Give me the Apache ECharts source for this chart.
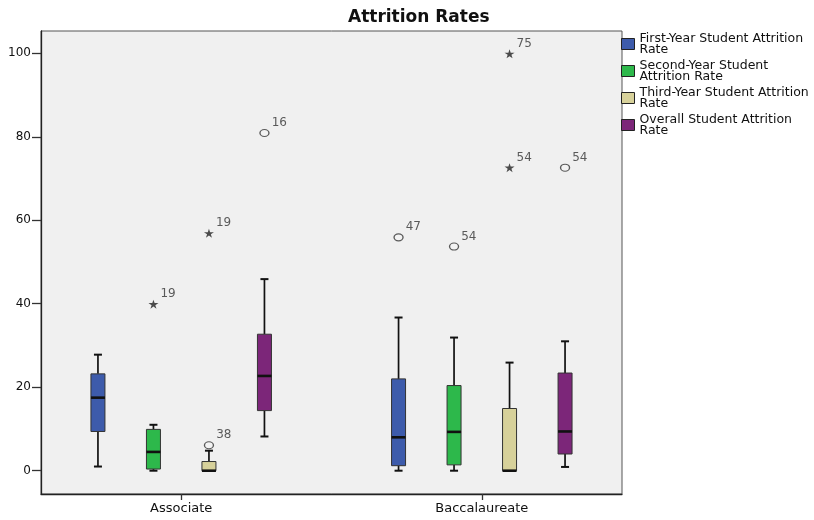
<!DOCTYPE html>
<html>
<head>
<meta charset="utf-8">
<title>Attrition Rates</title>
<script src="https://cdn.jsdelivr.net/npm/echarts@6/dist/echarts.min.js"></script>
<style>
  html, body { margin: 0; padding: 0; background: #fff; }
  #chart { width: 814px; height: 520px; }
</style>
</head>
<body>
<div id="chart"></div>
<script>
// 分类
const categories = ['Associate', 'Baccalaureate']
// 图例名称 (和原图一样换行)
const seriesNames = [
  'First-Year Student Attrition\nRate',
  'Second-Year Student\nAttrition Rate',
  'Third-Year Student Attrition\nRate',
  'Overall Student Attrition\nRate'
]
const seriesColors = ['#3d5bab', '#2db84b', '#d7d19a', '#7c2679']
// 箱线数据: [分类, min, Q1, median, Q3, max]
const firstYear = [[0, 1.0, 9.4, 17.5, 23.2, 27.8], [1, 0, 1.2, 8.0, 22.0, 36.7]]
const secondYear = [[0, 0, 0.4, 4.5, 9.9, 11.0], [1, 0, 1.4, 9.3, 20.4, 31.9]]
const thirdYear = [[0, 0, 0, 0, 2.2, 4.8], [1, 0, 0, 0, 14.9, 25.9]]
const overall = [[0, 8.2, 14.4, 22.7, 32.7, 45.9], [1, 0.9, 4.0, 9.4, 23.4, 31.0]]
// 离群点: [分类, 值, 编号, 类型] 'o' 离群 / '*' 极端
const outFirst = [[1, 55.9, '47', 'o']]
const outSecond = [[0, 39.9, '19', '*'], [1, 53.7, '54', 'o']]
const outThird = [[0, 6.1, '38', 'o'], [0, 56.9, '19', '*'], [1, 99.9, '75', '*'], [1, 72.6, '54', '*']]
const outOverall = [[0, 80.9, '16', 'o'], [1, 72.6, '54', 'o']]
const yTicks = [0, 20, 40, 60, 80, 100]

const boxData = [firstYear, secondYear, thirdYear, overall]
const outData = [outFirst, outSecond, outThird, outOverall]

const font = 'DejaVu Sans'
const boxGap = 55.5 // 箱子间距 px
const starPath = 'path://M50,0 L61,35 L98,35 L68,57 L79,91 L50,70 L21,91 L32,57 L2,35 L39,35 Z'

const chart = echarts.init(document.getElementById('chart'))

// 画一个箱子
const makeRender = (index, color) => (params, api) => {
  const off = (index - 1.5) * boxGap
  const x = api.value(0)
  const pt = (k) => api.coord([x, api.value(k)])
  const lo = pt(1)
  const q1 = pt(2)
  const md = pt(3)
  const q3 = pt(4)
  const hi = pt(5)
  const cx = lo[0] + off
  const hw = 7
  const cw = 4
  const line = (x1, y1, x2, y2, w) => ({
    type: 'line',
    shape: { x1, y1, x2, y2 },
    style: { stroke: '#111', lineWidth: w }
  })
  return {
    type: 'group',
    children: [
      line(cx, hi[1], cx, q3[1], 1.7),
      line(cx, q1[1], cx, lo[1], 1.7),
      line(cx - cw, hi[1], cx + cw, hi[1], 2),
      line(cx - cw, lo[1], cx + cw, lo[1], 2),
      {
        type: 'rect',
        shape: { x: cx - hw, y: q3[1], width: hw * 2, height: q1[1] - q3[1] },
        style: { fill: color, stroke: '#333', lineWidth: 1 }
      },
      line(cx - hw, md[1], cx + hw, md[1], 2.6)
    ]
  }
}

const boxSeries = boxData.map((data, i) => ({
  type: 'custom',
  name: seriesNames[i],
  data: data,
  encode: { x: 0, y: [1, 2, 3, 4, 5] },
  itemStyle: { color: seriesColors[i] },
  renderItem: makeRender(i, seriesColors[i]),
  clip: false,
  z: 2
}))

const outSeries = outData.map((list, i) => ({
  type: 'scatter',
  name: seriesNames[i],
  z: 3,
  data: list.map((d) => ({
    value: [d[0], d[1]],
    name: d[2],
    symbol: d[3] === '*' ? starPath : 'circle',
    symbolSize: d[3] === '*' ? [10, 9] : [9, 7],
    symbolOffset: [(i - 1.5) * boxGap, 0],
    itemStyle: d[3] === '*'
      ? { color: '#222', borderWidth: 0 }
      : { color: '#f4f4f4', borderColor: '#333', borderWidth: 1.2 }
  })),
  label: {
    show: true,
    position: 'right',
    distance: 2,
    offset: [0, -10],
    formatter: (p) => p.name,
    fontFamily: font,
    fontSize: 12,
    color: '#333'
  }
}))

const pad = 0.4664
const option = {
  backgroundColor: '#fff',
  animation: false,
  title: {
    text: 'Attrition Rates',
    left: 343,
    top: 4,
    textStyle: { fontFamily: font, fontSize: 17, fontWeight: 'bold', color: '#111' }
  },
  legend: {
    data: seriesNames,
    orient: 'vertical',
    left: 621,
    top: 32,
    padding: 0,
    itemGap: 3,
    itemWidth: 13,
    itemHeight: 11,
    icon: 'rect',
    itemStyle: { borderColor: '#222', borderWidth: 1 },
    textStyle: { fontFamily: font, fontSize: 12.5, lineHeight: 11, color: '#111' }
  },
  grid: {
    left: 41,
    right: 192,
    top: 31,
    bottom: 26,
    show: true,
    backgroundColor: '#f0f0f0',
    borderColor: '#555',
    borderWidth: 1
  },
  xAxis: {
    type: 'value',
    min: -pad,
    max: 1 + pad,
    splitLine: { show: false },
    axisLine: { onZero: false, lineStyle: { color: '#222', width: 1.3 } },
    axisTick: { customValues: [0, 1], length: 6, lineStyle: { color: '#333', width: 1.3 } },
    axisLabel: {
      customValues: [0, 1],
      formatter: (v) => categories[Math.round(v)],
      margin: 8,
      fontFamily: font,
      fontSize: 13,
      color: '#111'
    }
  },
  yAxis: {
    type: 'value',
    min: -5.58,
    max: 105.34,
    splitLine: { show: false },
    axisLine: { show: true, onZero: false, lineStyle: { color: '#222', width: 1.3 } },
    axisTick: { show: true, customValues: yTicks, length: 9, lineStyle: { color: '#333', width: 1.3 } },
    axisLabel: {
      customValues: yTicks,
      margin: 10,
      fontFamily: font,
      fontSize: 12,
      color: '#111'
    }
  },
  series: [...boxSeries, ...outSeries]
}

chart.setOption(option)
</script>
</body>
</html>
